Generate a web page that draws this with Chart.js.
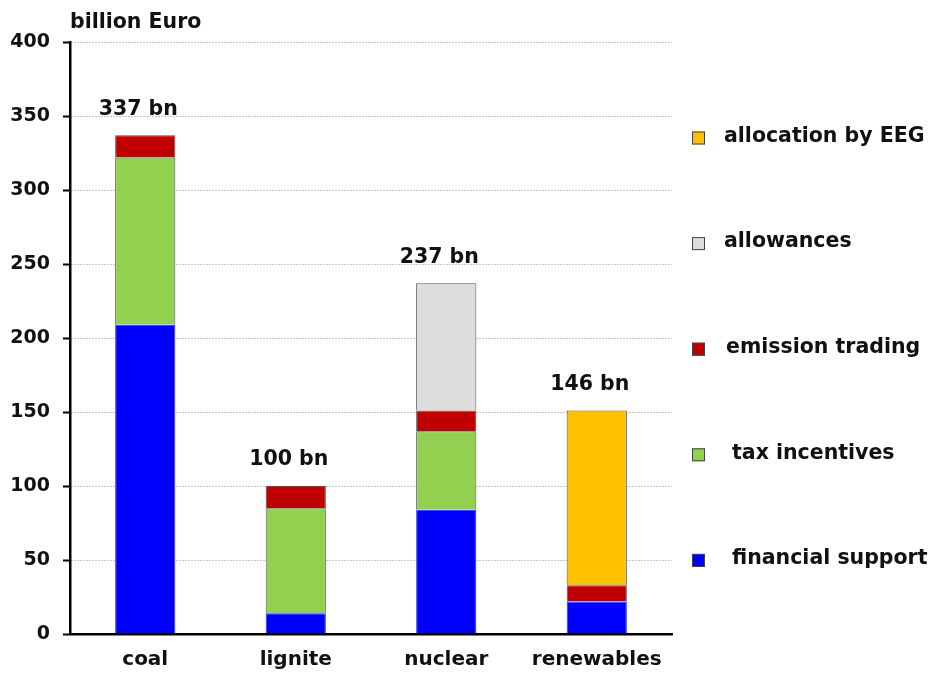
<!DOCTYPE html>
<html>
<head>
<meta charset="utf-8">
<script src="https://cdn.jsdelivr.net/npm/chart.js@4/dist/chart.umd.min.js"></script>
<style>
html,body{margin:0;padding:0;background:#fff;}
#wrap{width:933px;height:675px;position:relative;}
</style>
</head>
<body>
<div id="wrap"><canvas id="c" width="933" height="675"></canvas></div>
<script>
const categories = ["coal", "lignite", "nuclear", "renewables"];
const financialSupport = [209, 14, 84, 22];
const taxIncentives = [113, 71, 53, null];
const emissionTrading = [15, 15, 14, 11];
const allowances = [null, null, 86, null];
const allocationByEEG = [null, null, null, 118];
const totalLabels = ["337 bn", "100 bn", "237 bn", "146 bn"];
const yTicks = [0, 50, 100, 150, 200, 250, 300, 350, 400];

const FONT = "'DejaVu Sans', Verdana, sans-serif";

const legendPlugin = {
  id: 'customLegend',
  afterDraw(chart) {
    const ctx = chart.ctx;
    const ds = chart.data.datasets.slice().reverse();
    ctx.save();
    ctx.font = "bold 20.5px " + FONT;
    ctx.textBaseline = 'middle';
    ds.forEach((d, i) => {
      const y = 137.5 + i * 105.6;
      ctx.fillStyle = d.backgroundColor;
      ctx.fillRect(692, y - 6, 13, 13);
      ctx.strokeStyle = '#444';
      ctx.lineWidth = 1;
      ctx.strokeRect(692.5, y - 5.5, 12, 12);
      ctx.fillStyle = '#111';
      ctx.fillText(d.label, d.legendX || 724, y - 1);
    });
    ctx.font = "bold 20.5px " + FONT;
    ctx.textBaseline = 'alphabetic';
    ctx.fillText('billion Euro', 70, 28);
    ctx.restore();
  }
};

const totalsPlugin = {
  id: 'totals',
  afterDatasetsDraw(chart) {
    const ctx = chart.ctx;
    const ys = chart.scales.y;
    const xs = chart.scales.x;
    ctx.save();
    ctx.font = "bold 20.5px " + FONT;
    ctx.fillStyle = '#111';
    ctx.textAlign = 'center';
    ctx.textBaseline = 'middle';
    categories.forEach((c, i) => {
      let tot = 0;
      chart.data.datasets.forEach(d => { tot += d.data[i] || 0; });
      const x = xs.getPixelForValue(i);
      const y = ys.getPixelForValue(tot) - 26;
      ctx.fillText(totalLabels[i], x - 7, y);
    });
    ctx.restore();
  }
};

new Chart(document.getElementById('c'), {
  type: 'bar',
  data: {
    labels: categories,
    datasets: [
      { label: 'financial support', data: financialSupport, backgroundColor: '#0000FF', borderColor: '#3030d8', borderWidth: 1, legendX: 732 },
      { label: 'tax incentives', data: taxIncentives, backgroundColor: '#92D050', borderColor: '#555', borderWidth: 1, legendX: 732 },
      { label: 'emission trading', data: emissionTrading, backgroundColor: '#C00000', borderColor: '#555', borderWidth: 1, legendX: 726 },
      { label: 'allowances', data: allowances, backgroundColor: '#DDDDDD', borderColor: '#555', borderWidth: 1, legendX: 724 },
      { label: 'allocation by EEG', data: allocationByEEG, backgroundColor: '#FFC000', borderColor: '#555', borderWidth: 1, legendX: 724 }
    ]
  },
  options: {
    responsive: false,
    animation: false,
    devicePixelRatio: 1,
    datasets: { bar: { barPercentage: 0.4, categoryPercentage: 1.0 } },
    layout: { padding: { left: 0, right: 261, top: 42, bottom: 0 } },
    plugins: { legend: { display: false }, tooltip: { enabled: false } },
    scales: {
      x: {
        stacked: true,
        grid: { display: false },
        border: { display: true, color: '#000', width: 2.5 },
        ticks: { color: '#111', font: { family: FONT, size: 20, weight: 'bold' }, padding: 6 },
        afterFit(s) { s.height = 41; }
      },
      y: {
        stacked: true,
        min: 0, max: 400,
        afterBuildTicks(s) { s.ticks = yTicks.map(v => ({ value: v })); },
        grid: {
          color: (ctx) => ctx.tick && ctx.tick.value === 0 ? 'rgba(0,0,0,0)' : '#8a8a8a',
          lineWidth: 1,
          tickColor: '#000',
          tickWidth: 2,
          tickLength: 7,
          tickBorderDash: []
        },
        border: { display: true, color: '#000', width: 2.5, dash: [1, 2] },
        ticks: { color: '#111', font: { family: FONT, size: 19, weight: 'bold' }, padding: 13 },
        afterFit(s) { s.width = 70; }
      }
    }
  },
  plugins: [legendPlugin, totalsPlugin]
});
</script>
</body>
</html>
